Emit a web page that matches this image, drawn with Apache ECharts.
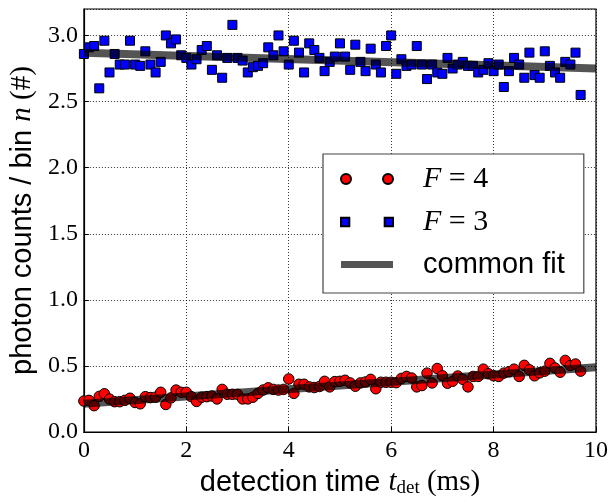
<!DOCTYPE html>
<html>
<head>
<meta charset="utf-8">
<script src="https://cdn.jsdelivr.net/npm/echarts@6/dist/echarts.min.js"></script>
<style>
html,body{margin:0;padding:0;background:#fff;}
#chart{width:611px;height:503px;}
</style>
</head>
<body>
<div id="chart"></div>
<script>
// detection times (ms)
var times = [0.0,0.1,0.2,0.3,0.4,0.5,0.6,0.7,0.8,0.9,
  1.0,1.1,1.2,1.3,1.4,1.5,1.6,1.7,1.8,1.9,
  2.0,2.1,2.2,2.3,2.4,2.5,2.6,2.7,2.8,2.9,
  3.0,3.1,3.2,3.3,3.4,3.5,3.6,3.7,3.8,3.9,
  4.0,4.1,4.2,4.3,4.4,4.5,4.6,4.7,4.8,4.9,
  5.0,5.1,5.2,5.3,5.4,5.5,5.6,5.7,5.8,5.9,
  6.0,6.1,6.2,6.3,6.4,6.5,6.6,6.7,6.8,6.9,
  7.0,7.1,7.2,7.3,7.4,7.5,7.6,7.7,7.8,7.9,
  8.0,8.1,8.2,8.3,8.4,8.5,8.6,8.7,8.8,8.9,
  9.0,9.1,9.2,9.3,9.4,9.5,9.6,9.7];

// F = 4 photon counts per bin
var countsF4 = [0.235,0.24,0.20,0.27,0.29,0.25,0.23,0.23,0.24,0.256,
  0.224,0.214,0.268,0.261,0.264,0.301,0.209,0.259,0.318,0.301,
  0.301,0.268,0.232,0.264,0.268,0.273,0.251,0.323,0.286,0.286,
  0.286,0.251,0.251,0.264,0.293,0.318,0.335,0.323,0.318,0.323,
  0.402,0.293,0.362,0.362,0.342,0.337,0.345,0.384,0.342,0.382,
  0.384,0.392,0.372,0.347,0.372,0.379,0.399,0.328,0.377,0.377,
  0.377,0.374,0.406,0.421,0.409,0.342,0.352,0.446,0.372,0.481,
  0.426,0.370,0.384,0.424,0.399,0.342,0.421,0.421,0.476,0.441,
  0.426,0.421,0.446,0.456,0.476,0.421,0.505,0.471,0.426,0.448,
  0.461,0.520,0.485,0.453,0.542,0.503,0.515,0.461];

// F = 3 photon counts per bin
var countsF3 = [2.86,2.91,2.92,2.60,2.96,2.72,2.86,2.78,2.78,2.96,
  2.78,2.77,2.88,2.78,2.72,2.80,3.00,2.94,2.97,2.85,
  2.83,2.78,2.82,2.89,2.92,2.74,2.85,2.68,2.83,3.08,
  2.83,2.81,2.72,2.76,2.77,2.79,2.91,2.85,3.00,2.88,
  2.78,2.96,2.87,2.72,2.94,2.89,2.83,2.73,2.80,2.84,
  2.94,2.84,2.74,2.93,2.80,2.73,2.90,2.78,2.72,2.92,
  3.00,2.71,2.82,2.77,2.78,2.92,2.78,2.67,2.78,2.72,
  2.71,2.83,2.75,2.78,2.80,2.77,2.77,2.72,2.74,2.79,
  2.73,2.78,2.61,2.73,2.83,2.78,2.68,2.87,2.70,2.68,
  2.88,2.77,2.72,2.68,2.80,2.78,2.87,2.55];

// common fit endpoints
var fitTimes = [0, 10];
var fitF4 = [0.215, 0.49];
var fitF3 = [2.87, 2.75];

// axes
var xTicks = [0, 2, 4, 6, 8, 10];
var yTicks = [0.0, 0.5, 1.0, 1.5, 2.0, 2.5, 3.0];

function pairs(xs, ys) { return xs.map(function (x, i) { return [x, ys[i]]; }); }

var SERIF = '"Liberation Serif", "DejaVu Serif", serif';
var SANS = '"Liberation Sans", Arial, sans-serif';

var chart = echarts.init(document.getElementById('chart'), null, {renderer: 'canvas'});

var circleIcon = 'path://M0,5a5,5 0 1,0 10,0a5,5 0 1,0 -10,0ZM42,5a5,5 0 1,0 10,0a5,5 0 1,0 -10,0Z';
var squareIcon = 'path://M1,1H9V9H1ZM43,1H51V9H43Z';
var barIcon = 'path://M0,0H52V7H0Z';

var option = {
  animation: false,
  backgroundColor: '#fff',
  grid: {left: 83, right: 12, top: 9, bottom: 62, show: true, borderColor: '#000', borderWidth: 1.2, backgroundColor: 'transparent'},
  xAxis: {
    type: 'value', min: xTicks[0], max: xTicks[xTicks.length - 1], interval: 2,
    axisLine: {show: true, lineStyle: {color: '#000', width: 1.2}},
    axisTick: {show: true, inside: true, length: 5, lineStyle: {color: '#000'}},
    axisLabel: {fontFamily: SERIF, fontSize: 24, color: '#000', margin: 7},
    splitLine: {show: true, lineStyle: {color: '#000', type: [1, 2], width: 1, opacity: 0.8}},
    name: '{s|detection time }{m|t}{sub|det}{r| (ms)}',
    nameLocation: 'middle', nameGap: 26,
    nameTextStyle: {
      color: '#000',
      rich: {
        s: {fontFamily: SANS, fontSize: 29, color: '#000'},
        m: {fontFamily: SERIF, fontStyle: 'italic', fontSize: 29, color: '#000'},
        sub: {fontFamily: SERIF, fontSize: 19, color: '#000', padding: [12, 0, 0, 0]},
        r: {fontFamily: SERIF, fontSize: 29, color: '#000'}
      }
    }
  },
  yAxis: {
    type: 'value', min: 0, max: 3.2, interval: 0.5,
    axisLine: {show: true, lineStyle: {color: '#000', width: 1.2}},
    axisTick: {show: true, inside: true, length: 5, lineStyle: {color: '#000'}},
    axisLabel: {fontFamily: SERIF, fontSize: 24, color: '#000', margin: 6, showMaxLabel: false,
      formatter: function (v) { return v.toFixed(1); }},
    splitLine: {show: true, lineStyle: {color: '#000', type: [1, 2], width: 1, opacity: 0.8}},
    name: '{s|photon counts / bin }{m|n}{r| (#)}',
    nameLocation: 'middle', nameGap: 45,
    nameTextStyle: {
      color: '#000',
      rich: {
        s: {fontFamily: SANS, fontSize: 29, color: '#000'},
        m: {fontFamily: SERIF, fontStyle: 'italic', fontSize: 29, color: '#000'},
        r: {fontFamily: SERIF, fontSize: 29, color: '#000'}
      }
    }
  },
  legend: {
    orient: 'vertical', left: 323, top: 154,
    backgroundColor: '#fff', borderColor: '#444', borderWidth: 1.2,
    padding: [10, 19, 14, 17],
    itemWidth: 52, itemHeight: 10, itemGap: 13,
    symbolKeepAspect: true,
    textStyle: {fontFamily: SANS, fontSize: 29, color: '#000', padding: [0, 0, 0, 25],
      rich: {
        i: {fontFamily: SERIF, fontStyle: 'italic', fontSize: 30, color: '#000'},
        e: {fontFamily: SERIF, fontSize: 30, color: '#000'}
      }
    },
    formatter: function (name) {
      if (name === 'F=4') return '{i|F}{e| = 4}';
      if (name === 'F=3') return '{i|F}{e| = 3}';
      return name;
    },
    data: [
      {name: 'F=4', icon: circleIcon},
      {name: 'F=3', icon: squareIcon},
      {name: 'common fit', icon: barIcon, itemStyle: {color: '#555', opacity: 1, borderWidth: 0}}
    ]
  },
  series: [
    {
      name: 'F=4', type: 'scatter', symbol: 'circle', symbolSize: 10.5,
      itemStyle: {color: '#ff0000', borderColor: '#000', borderWidth: 1, opacity: 1},
      data: pairs(times, countsF4), z: 2
    },
    {
      name: 'F=3', type: 'scatter', symbol: 'rect', symbolSize: 9,
      itemStyle: {color: '#0000ff', borderColor: '#000', borderWidth: 1, opacity: 1},
      data: pairs(times, countsF3), z: 2
    },
    {
      name: 'common fit', type: 'line', symbol: 'none', silent: true,
      lineStyle: {color: '#000', width: 8, opacity: 0.67},
      itemStyle: {color: '#555'},
      data: pairs(fitTimes, fitF4), z: 3
    },
    {
      name: 'common fit', type: 'line', symbol: 'none', silent: true,
      lineStyle: {color: '#000', width: 8, opacity: 0.67},
      itemStyle: {color: '#555'},
      data: pairs(fitTimes, fitF3), z: 3
    }
  ]
};
chart.setOption(option);
</script>
</body>
</html>
